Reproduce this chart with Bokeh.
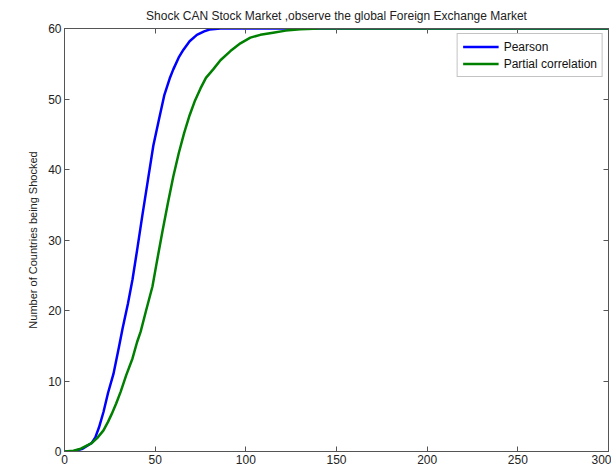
from bokeh.plotting import figure
from bokeh.models import LinearAxis, Range1d, FixedTicker, Legend, LegendItem
from bokeh.embed import file_html
from bokeh.resources import INLINE

title_text = "Shock CAN Stock Market ,observe the global Foreign Exchange Market"
y_label = "Number of Countries being Shocked"
x_ticks = [0, 50, 100, 150, 200, 250, 300]
y_ticks = [0, 10, 20, 30, 40, 50, 60]

pearson_x = [0, 5, 10, 15, 17, 19, 21.5, 24, 27, 30, 32, 35, 37.5, 40, 43, 46, 49, 52, 55,
             58, 60, 63, 65.6, 69, 73, 77, 80, 86, 300]
pearson_y = [0, 0.05, 0.4, 1.2, 2.0, 3.4, 5.6, 8.3, 11, 14.8, 17.4, 21, 24.4, 28.5, 33.6, 38.5,
             43.4, 47, 50.5, 52.9, 54.2, 55.9, 57.0, 58.2, 59.1, 59.6, 59.85, 60, 60]

partial_x = [0, 5, 9, 15, 18, 21.5, 24, 26, 28.5, 31, 34, 37.5, 40, 42, 45, 48.5, 51, 54, 57,
             60, 63, 66, 69, 72, 75, 78, 82, 86, 91.5, 97, 102.5, 108, 115, 122, 130, 141, 300]
partial_y = [0, 0.1, 0.4, 1.2, 1.9, 3.0, 4.2, 5.3, 6.8, 8.5, 10.8, 13.2, 15.5, 17, 20, 23.4,
             27, 31.2, 35.2, 39.0, 42.3, 45.2, 47.7, 49.8, 51.5, 53, 54.2, 55.5, 56.8, 57.9,
             58.7, 59.1, 59.4, 59.7, 59.9, 60, 60]

FONT = "Liberation Sans"
AXC = "#555555"

p = figure(width=611, height=466, output_backend="svg", toolbar_location=None,
           x_range=Range1d(0, 300), y_range=Range1d(0, 60),
           min_border_left=64, min_border_right=3, min_border_top=0, min_border_bottom=0,
           background_fill_color="white", border_fill_color="white")

p.title.text = title_text
p.title.align = "center"
p.title.text_font = FONT
p.title.text_font_size = "12px"
p.title.text_font_style = "normal"
p.title.text_color = "#222222"
p.title.standoff = 12

p.xgrid.visible = False
p.ygrid.visible = False
p.outline_line_color = AXC
p.outline_line_width = 1

for ax, ticks in ((p.xaxis[0], x_ticks), (p.yaxis[0], y_ticks)):
    ax.ticker = FixedTicker(ticks=ticks)
    ax.major_tick_in = 5
    ax.major_tick_out = 0
    ax.minor_tick_in = 0
    ax.minor_tick_out = 0
    ax.axis_line_color = AXC
    ax.major_tick_line_color = AXC
    ax.major_label_text_font = FONT
    ax.major_label_text_font_size = "12px"
    ax.major_label_text_color = "#222222"
    ax.major_label_standoff = 3

p.yaxis[0].axis_label = y_label
p.yaxis[0].axis_label_text_font = FONT
p.yaxis[0].axis_label_text_font_size = "11px"
p.yaxis[0].axis_label_text_font_style = "normal"
p.yaxis[0].axis_label_text_color = "#222222"
p.yaxis[0].axis_label_standoff = 6

top_ax = LinearAxis(ticker=FixedTicker(ticks=x_ticks),
                    major_label_overrides={t: "" for t in x_ticks},
                    major_label_text_font_size="0px", major_label_standoff=0,
                    major_tick_in=5, major_tick_out=0, minor_tick_in=0, minor_tick_out=0,
                    axis_line_color=AXC, major_tick_line_color=AXC)
right_ax = LinearAxis(ticker=FixedTicker(ticks=y_ticks),
                      major_label_overrides={t: "" for t in y_ticks},
                      major_label_text_font_size="0px", major_label_standoff=0,
                      major_tick_in=5, major_tick_out=0, minor_tick_in=0, minor_tick_out=0,
                      axis_line_color=AXC, major_tick_line_color=AXC)
p.add_layout(top_ax, "above")
p.add_layout(right_ax, "right")

r1 = p.line(pearson_x, pearson_y, line_color="#0000ff", line_width=2.5)
r2 = p.line(partial_x, partial_y, line_color="#008000", line_width=2.5)

legend = Legend(items=[LegendItem(label="Pearson", renderers=[r1]),
                       LegendItem(label="Partial correlation", renderers=[r2])],
                location="top_right", margin=5, padding=5, spacing=2,
                glyph_width=36, glyph_height=15, label_height=15, label_standoff=5,
                label_text_font=FONT, label_text_font_size="12px", label_text_color="#111111",
                border_line_color="#888888", border_line_width=1,
                background_fill_color="white", background_fill_alpha=1.0)
p.add_layout(legend)

open("out.html", "w").write(file_html(p, INLINE))
